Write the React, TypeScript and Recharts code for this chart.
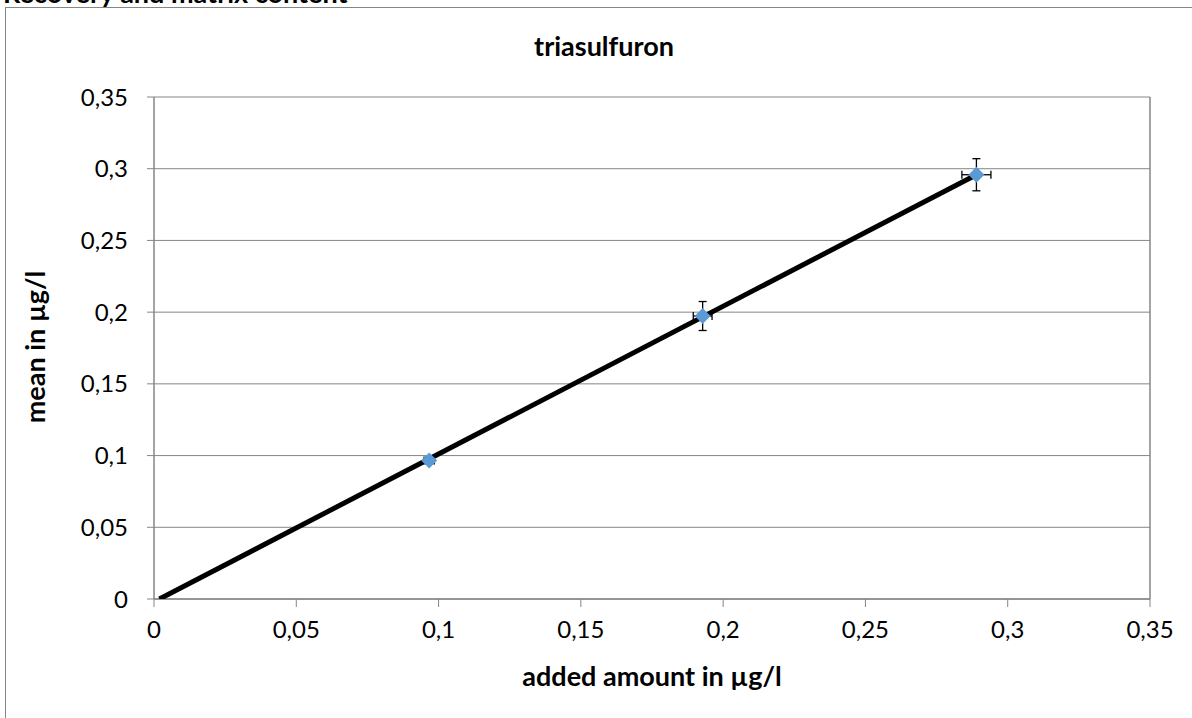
import React from 'react'
import { ScatterChart, Scatter, XAxis, YAxis, CartesianGrid, ErrorBar, ReferenceLine } from 'recharts'

// measured points: added amount vs. mean, with spread
const addedAmount = [0.0967, 0.1928, 0.289]
const meanValue = [0.0965, 0.1973, 0.2958]
const addedErr = [0.0018, 0.0033, 0.0051]
const meanErr = [0.0024, 0.0101, 0.0112]

// linear trend line ends
const trendX = [0.0019, 0.289]
const trendY = [0, 0.2958]

const xTicks = [0, 0.05, 0.1, 0.15, 0.2, 0.25, 0.3, 0.35]
const yTicks = [0, 0.05, 0.1, 0.15, 0.2, 0.25, 0.3, 0.35]

const points = addedAmount.map((x, i) => ({ x, y: meanValue[i], ex: addedErr[i], ey: meanErr[i] }))
const trend = trendX.map((x, i) => ({ x, y: trendY[i] }))

const W = 1192
const H = 718
const GRAY = '#868686'
const FONT = 'Lato, "Open Sans", sans-serif'

const fmt = (v: number) => String(v).replace('.', ',')

const Diamond = (props: any) => {
  const { cx, cy } = props
  const r = 8
  return <polygon points={`${cx},${cy - r} ${cx + r},${cy} ${cx},${cy + r} ${cx - r},${cy}`} fill="#5B9BD5" />
}

const NoDot = () => <g />

export default function App() {
  return (
    <div style={{ position: 'absolute', left: 0, top: 0, width: W, height: H, overflow: 'hidden', background: '#fff' }}>
      <svg width={W} height={H} style={{ position: 'absolute', left: 0, top: 0 }}>
        <rect x={5.5} y={7.5} width={1200} height={720} fill="#fff" stroke={GRAY} />
        <text x={3} y={3} fontFamily={FONT} fontWeight={700} fontSize={27} fill="#000">
          Recovery and matrix content
        </text>
        <text x={604} y={56} textAnchor="middle" fontFamily={FONT} fontWeight={700} fontSize={27} fill="#000">
          triasulfuron
        </text>
        <text x={652} y={686} textAnchor="middle" fontFamily={FONT} fontWeight={700} fontSize={27} fill="#000">
          added amount in µg/l
        </text>
        <text transform="translate(45,347) rotate(-90)" textAnchor="middle" fontFamily={FONT} fontWeight={700} fontSize={27} fill="#000">
          mean in µg/l
        </text>
      </svg>
      <div style={{ position: 'absolute', left: 0, top: 0 }}>
        <ScatterChart width={W} height={H} margin={{ top: 97, right: 42, bottom: 0, left: 0 }}>
          <CartesianGrid vertical={false} stroke={GRAY} horizontalValues={yTicks} />
          <XAxis
            type="number"
            dataKey="x"
            domain={[0, 0.35]}
            ticks={xTicks}
            tickFormatter={fmt}
            height={119}
            tickSize={8}
            tickMargin={14}
            axisLine={{ stroke: GRAY, strokeWidth: 1.5 }}
            tickLine={{ stroke: GRAY }}
            tick={{ fill: '#000', fontSize: 24, fontFamily: FONT }}
            allowDataOverflow
          />
          <YAxis
            type="number"
            dataKey="y"
            domain={[0, 0.35]}
            ticks={yTicks}
            tickFormatter={fmt}
            width={154}
            tickSize={7}
            tickMargin={19}
            axisLine={{ stroke: GRAY, strokeWidth: 1.5 }}
            tickLine={{ stroke: GRAY }}
            tick={{ fill: '#000', fontSize: 24, fontFamily: FONT }}
            allowDataOverflow
          />
          <ReferenceLine x={0.35} stroke={GRAY} strokeWidth={1.5} />
          <Scatter
            data={trend}
            line={{ stroke: '#000', strokeWidth: 5 }}
            lineType="joint"
            shape={NoDot}
            isAnimationActive={false}
          />
          <Scatter data={points} shape={Diamond} isAnimationActive={false}>
            <ErrorBar dataKey="ey" direction="y" width={4} stroke="#000" strokeWidth={1.3} />
            <ErrorBar dataKey="ex" direction="x" width={4} stroke="#000" strokeWidth={1.3} />
          </Scatter>
        </ScatterChart>
      </div>
    </div>
  )
}
